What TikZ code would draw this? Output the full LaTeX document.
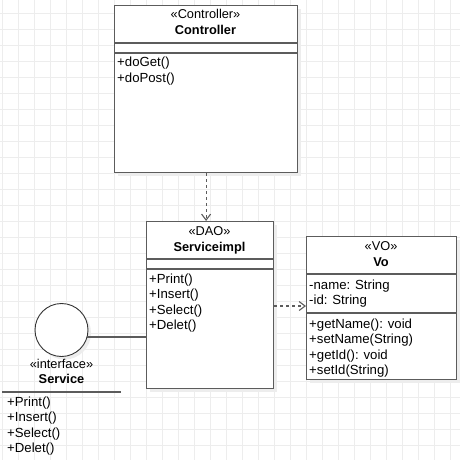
\documentclass[tikz,border=0pt]{standalone}
\usepackage{fontspec}
\setmainfont{Liberation Sans}
\usetikzlibrary{arrows.meta,calc}
\begin{document}
\begin{tikzpicture}[x=1pt,y=-1pt,
  gridline/.style={draw=black!7, line width=0.8pt},
  shadowed/.style={preaction={fill=black!7, draw=none, transform canvas={shift={(3pt,-3pt)}}}},
  classbox/.style={shadowed, draw=black!64, line width=1.2pt, fill=white, inner sep=0, anchor=north west},
  sepline/.style={draw=black!64, line width=1.2pt},
  txt/.style={anchor=west, inner sep=0, text height=9.5pt, text depth=2.8pt, font=\fontsize{13.2}{15}\selectfont},
  ctxt/.style={anchor=center, inner sep=0, text height=9.5pt, text depth=2.8pt, font=\fontsize{12.8}{15}\selectfont},
  dep/.style={draw=black!64, line width=1.2pt, dash pattern=on 3pt off 3pt, -{Straight Barb[length=6pt,width=9pt,line width=1.1pt]}},
  link/.style={draw=black!64, line width=1.3pt}
]
\useasboundingbox (0,0) rectangle (460,460);
\fill[white] (0,0) rectangle (460,460);
\foreach \x in {2.5,18.5,...,460} \draw[gridline] (\x,0) -- (\x,460);
\foreach \y in {13.3,29.3,...,460} \draw[gridline] (0,\y) -- (460,\y);

% Controller
\node[classbox, minimum width=183pt, minimum height=167pt] (ctrl) at (114,5) {};
\draw[sepline] ($(ctrl.north west)+(0,38)$) -- ($(ctrl.north east)+(0,38)$);
\draw[sepline] ($(ctrl.north west)+(0,48)$) -- ($(ctrl.north east)+(0,48)$);
\node[ctxt] (ctrlst) at (205.5,15) {«Controller»};
\node[ctxt] (ctrlnm) at (205.5,31) {\bfseries Controller};
\node[txt] (ctrlm1) at (117,63) {+doGet()};
\node[txt] (ctrlm2) at (117,79) {+doPost()};

% Serviceimpl
\node[classbox, minimum width=127pt, minimum height=167pt] (si) at (146,221) {};
\draw[sepline] ($(si.north west)+(0,38)$) -- ($(si.north east)+(0,38)$);
\draw[sepline] ($(si.north west)+(0,48)$) -- ($(si.north east)+(0,48)$);
\node[ctxt] (sist) at (209.5,232) {«DAO»};
\node[ctxt] (sinm) at (209.5,248) {\bfseries Serviceimpl};
\node[txt] (sim1) at (149,280) {+Print()};
\node[txt] (sim2) at (149,295) {+Insert()};
\node[txt] (sim3) at (149,311) {+Select()};
\node[txt] (sim4) at (149,326) {+Delet()};

% Vo
\node[classbox, minimum width=150pt, minimum height=143pt] (vo) at (306,236) {};
\draw[sepline] ($(vo.north west)+(0,38)$) -- ($(vo.north east)+(0,38)$);
\draw[sepline] ($(vo.north west)+(0,77)$) -- ($(vo.north east)+(0,77)$);
\node[ctxt] (vost) at (381,247) {«VO»};
\node[ctxt] (vonm) at (381,263) {\bfseries Vo};
\node[txt] (voa1) at (309,286) {-name: String};
\node[txt] (voa2) at (309,301) {-id: String};
\node[txt] (vom1) at (309,325) {+getName(): void};
\node[txt] (vom2) at (309,340) {+setName(String)};
\node[txt] (vom3) at (309,356) {+getId(): void};
\node[txt] (vom4) at (309,371) {+setId(String)};

% Interface Service
\node[shadowed, circle, draw=black!80, line width=0.9pt, fill=white, minimum size=53pt, inner sep=0] (circ) at (61.5,330) {};
\node[ctxt] (ifst) at (61.5,365) {«interface»};
\node[ctxt] (ifnm) at (61.5,380) {\bfseries Service};
\coordinate (ifl) at (2,392);
\coordinate (ifr) at (121,392);
\draw[sepline] (ifl) -- (ifr);
\node[txt] (ifm1) at (7,403) {+Print()};
\node[txt] (ifm2) at (7,418) {+Insert()};
\node[txt] (ifm3) at (7,434) {+Select()};
\node[txt] (ifm4) at (7,449) {+Delet()};

% connectors
\draw[dep] (ctrl.south) -- (ctrl.south |- si.north);
\coordinate (sia) at ($(si.north east)+(0,85)$);
\draw[dep] (sia) -- (sia -| vo.west);
\coordinate (cl) at ($(circ.center)+(0,7)$);
\draw[link] (si.west |- cl) -- ($(cl -| circ.east)+(-1,0)$);
\end{tikzpicture}
\end{document}
